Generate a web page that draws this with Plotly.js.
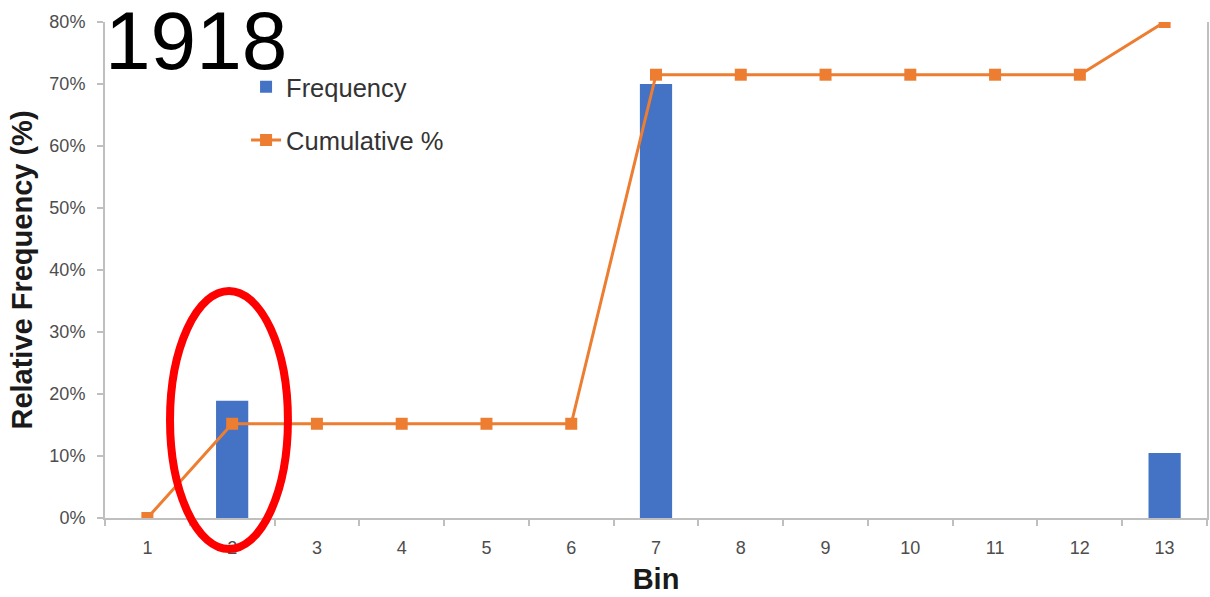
<!DOCTYPE html>
<html>
<head>
<meta charset="utf-8">
<script src="https://cdn.plot.ly/plotly-3.0.1.min.js"></script>
<style>html,body{margin:0;padding:0;background:#fff}#chart{width:1210px;height:597px}</style>
</head>
<body>
<div id="chart"></div>
<script>
const bins = ["1","2","3","4","5","6","7","8","9","10","11","12","13"];
const frequency = [0, 18.9, 0, 0, 0, 0, 70.0, 0, 0, 0, 0, 0, 10.5];
const cumulative = [0, 15.2, 15.2, 15.2, 15.2, 15.2, 71.5, 71.5, 71.5, 71.5, 71.5, 71.5, 80];
const yTicks = [0, 10, 20, 30, 40, 50, 60, 70, 80];
const yTickText = yTicks.map(v => v + "%");
const chartTitle = "1918";

const traces = [
  {type: "bar", name: "Frequency", x: bins, y: frequency, width: 0.38,
   marker: {color: "#4472C4", line: {width: 0}}, legendgroup: "a"},
  {type: "scatter", mode: "lines+markers", name: "Cumulative %", x: bins, y: cumulative,
   line: {color: "#ED7D31", width: 3},
   marker: {symbol: "square", size: 12, color: "#ED7D31"}, legendgroup: "b"}
];

const layout = {
  width: 1210, height: 597,
  margin: {l: 105, r: 3, t: 22, b: 79},
  paper_bgcolor: "#fff", plot_bgcolor: "#fff",
  font: {family: "Liberation Sans, Arial, sans-serif", color: "#595959"},
  title: {text: chartTitle, font: {size: 82, color: "#000", family: "Liberation Sans, Arial, sans-serif"},
          x: 0, xanchor: "left", xref: "paper", y: 0.981, yanchor: "top", pad: {t: 0}},
  showlegend: true,
  legend: {x: 0.128, xanchor: "left", y: 0.916, yanchor: "top", bgcolor: "rgba(0,0,0,0)",
           traceorder: "grouped", tracegroupgap: 17,
           font: {size: 25.5, color: "#333", family: "Liberation Sans, Arial, sans-serif"}},
  xaxis: {type: "category", range: [-0.5, 12.5], showline: true, linecolor: "#bfbfbf", linewidth: 2,
          ticks: "outside", tickson: "boundaries", ticklen: 6, tickcolor: "#bfbfbf", tickwidth: 2,
          ticklabelstandoff: 12, showgrid: false, zeroline: false,
          tickfont: {size: 18, color: "#4d4d4d"},
          title: {text: "<b>Bin</b>", font: {size: 29, color: "#1a1a1a"}, standoff: 12}},
  yaxis: {range: [0, 80], tickmode: "array", tickvals: yTicks, ticktext: yTickText, showline: true, mirror: true,
          linecolor: "#bfbfbf", linewidth: 2, ticks: "outside", ticklen: 6, tickcolor: "#bfbfbf", tickwidth: 2,
          ticklabelstandoff: 8, showgrid: false, zeroline: false,
          tickfont: {size: 18, color: "#4d4d4d"},
          title: {text: "<b>Relative Frequency (%)</b>", font: {size: 29, color: "#1a1a1a"}, standoff: 8}},
  shapes: [
    {type: "circle", xref: "paper", yref: "paper", x0: 0.059, x1: 0.166, y0: -0.0625, y1: 0.4577,
     line: {color: "#ff0000", width: 8}, fillcolor: "rgba(0,0,0,0)"}
  ]
};

Plotly.newPlot("chart", traces, layout, {displayModeBar: false, staticPlot: true});
</script>
</body>
</html>
